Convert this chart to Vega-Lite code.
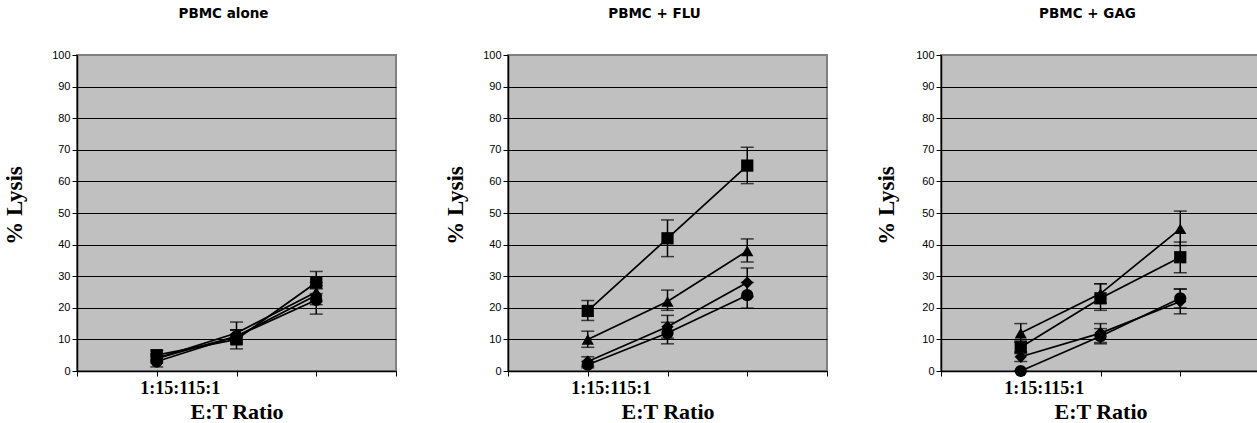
{
  "$schema": "https://vega.github.io/schema/vega-lite/v6.json",
  "background": "white",
  "padding": {"left": 2, "top": 5, "right": 0, "bottom": 0},
  "spacing": 45,
  "datasets": {
    "d": [
      {"panel": "PBMC alone", "series": "square", "ratio": "1:1", "pos": 1, "value": 5, "lo": 3.5, "hi": 6.5},
      {"panel": "PBMC alone", "series": "square", "ratio": "5:1", "pos": 2, "value": 10, "lo": 7, "hi": 13},
      {"panel": "PBMC alone", "series": "square", "ratio": "15:1", "pos": 3, "value": 28, "lo": 24.5, "hi": 31.5},
      {"panel": "PBMC alone", "series": "triangle", "ratio": "1:1", "pos": 1, "value": 4, "lo": 3, "hi": 5},
      {"panel": "PBMC alone", "series": "triangle", "ratio": "5:1", "pos": 2, "value": 12, "lo": 9.5, "hi": 15.5},
      {"panel": "PBMC alone", "series": "triangle", "ratio": "15:1", "pos": 3, "value": 25, "lo": 22, "hi": 28},
      {"panel": "PBMC alone", "series": "diamond", "ratio": "1:1", "pos": 1, "value": 4, "lo": 2.5, "hi": 5.5},
      {"panel": "PBMC alone", "series": "diamond", "ratio": "5:1", "pos": 2, "value": 11, "lo": 9, "hi": 13},
      {"panel": "PBMC alone", "series": "diamond", "ratio": "15:1", "pos": 3, "value": 24, "lo": 21, "hi": 27},
      {"panel": "PBMC alone", "series": "circle", "ratio": "1:1", "pos": 1, "value": 3, "lo": 1.3, "hi": 4.5},
      {"panel": "PBMC alone", "series": "circle", "ratio": "5:1", "pos": 2, "value": 11, "lo": 8.5, "hi": 13},
      {"panel": "PBMC alone", "series": "circle", "ratio": "15:1", "pos": 3, "value": 22.5, "lo": 18, "hi": 26},

      {"panel": "PBMC + FLU", "series": "square", "ratio": "1:1", "pos": 1, "value": 19, "lo": 16, "hi": 22.3},
      {"panel": "PBMC + FLU", "series": "square", "ratio": "5:1", "pos": 2, "value": 42, "lo": 36.2, "hi": 47.8},
      {"panel": "PBMC + FLU", "series": "square", "ratio": "15:1", "pos": 3, "value": 65, "lo": 59.3, "hi": 70.8},
      {"panel": "PBMC + FLU", "series": "triangle", "ratio": "1:1", "pos": 1, "value": 10, "lo": 7.5, "hi": 12.6},
      {"panel": "PBMC + FLU", "series": "triangle", "ratio": "5:1", "pos": 2, "value": 22, "lo": 19.2, "hi": 25.6},
      {"panel": "PBMC + FLU", "series": "triangle", "ratio": "15:1", "pos": 3, "value": 38, "lo": 34.5, "hi": 41.8},
      {"panel": "PBMC + FLU", "series": "diamond", "ratio": "1:1", "pos": 1, "value": 3, "lo": 1.5, "hi": 4.5},
      {"panel": "PBMC + FLU", "series": "diamond", "ratio": "5:1", "pos": 2, "value": 14, "lo": 10.4, "hi": 17.6},
      {"panel": "PBMC + FLU", "series": "diamond", "ratio": "15:1", "pos": 3, "value": 28, "lo": 23.5, "hi": 32.6},
      {"panel": "PBMC + FLU", "series": "circle", "ratio": "1:1", "pos": 1, "value": 2, "lo": 1, "hi": 3},
      {"panel": "PBMC + FLU", "series": "circle", "ratio": "5:1", "pos": 2, "value": 12, "lo": 8.6, "hi": 15.4},
      {"panel": "PBMC + FLU", "series": "circle", "ratio": "15:1", "pos": 3, "value": 24, "lo": 19.9, "hi": 28},

      {"panel": "PBMC + GAG", "series": "square", "ratio": "1:1", "pos": 1, "value": 7.5, "lo": 5.5, "hi": 9.5},
      {"panel": "PBMC + GAG", "series": "square", "ratio": "5:1", "pos": 2, "value": 23, "lo": 19.2, "hi": 27.6},
      {"panel": "PBMC + GAG", "series": "square", "ratio": "15:1", "pos": 3, "value": 36, "lo": 31.1, "hi": 40.8},
      {"panel": "PBMC + GAG", "series": "triangle", "ratio": "1:1", "pos": 1, "value": 12, "lo": 9, "hi": 15},
      {"panel": "PBMC + GAG", "series": "triangle", "ratio": "5:1", "pos": 2, "value": 24.5, "lo": 21.5, "hi": 27.6},
      {"panel": "PBMC + GAG", "series": "triangle", "ratio": "15:1", "pos": 3, "value": 45, "lo": 39.7, "hi": 50.6},
      {"panel": "PBMC + GAG", "series": "diamond", "ratio": "1:1", "pos": 1, "value": 4.5, "lo": 3, "hi": 6},
      {"panel": "PBMC + GAG", "series": "diamond", "ratio": "5:1", "pos": 2, "value": 12, "lo": 9, "hi": 15},
      {"panel": "PBMC + GAG", "series": "diamond", "ratio": "15:1", "pos": 3, "value": 22, "lo": 18.1, "hi": 25.9},
      {"panel": "PBMC + GAG", "series": "circle", "ratio": "1:1", "pos": 1, "value": 0, "lo": 0, "hi": 0},
      {"panel": "PBMC + GAG", "series": "circle", "ratio": "5:1", "pos": 2, "value": 11, "lo": 8.6, "hi": 13.4},
      {"panel": "PBMC + GAG", "series": "circle", "ratio": "15:1", "pos": 3, "value": 23, "lo": 20, "hi": 26}
    ]
  },
  "config": {
    "view": {"fill": "#C0C0C0", "stroke": "#808080", "strokeWidth": 2},
    "axis": {
      "labelFont": "Liberation Sans", "labelFontSize": 11, "labelColor": "black",
      "tickColor": "black", "tickSize": 5, "domainColor": "black", "domainWidth": 1.5,
      "titleFont": "Liberation Serif", "titleFontWeight": "bold", "titleFontSize": 22, "titleColor": "black"
    },
    "axisY": {"labelPadding": 2, "grid": true, "gridOpacity": 1, "gridWidth": 1, "titleFontSize": 23, "titleY": 150},
    "axisX": {
      "grid": false, "labelOverlap": false, "labelFlush": false,
      "labelFont": "Liberation Serif", "labelFontWeight": "bold", "labelFontSize": 18,
      "labelAlign": "left", "labelOffset": -17, "labelPadding": 3, "titlePadding": 4
    },
    "title": {"font": "DejaVu Sans", "fontSize": 13.5, "fontWeight": "bold", "color": "black", "offset": 29, "dx": -13},
    "line": {"color": "black", "strokeWidth": 1.7},
    "rule": {"color": "black", "strokeWidth": 1.5},
    "tick": {"color": "black", "thickness": 1.5, "size": 13, "orient": "horizontal"}
  },
  "hconcat": [
    {
      "title": "PBMC alone",
      "width": 319, "height": 316,
      "data": {"name": "d"},
      "transform": [{"filter": "datum.panel == 'PBMC alone'"}],
      "encoding": {"x": {"field": "pos", "type": "quantitative", "scale": {"domain": [0, 4]}, "axis": {"title": "E:T Ratio", "values": [0, 1, 2, 3, 4], "labelExpr": "datum.value == 1 ? '1:15:115:1' : ''"}}},
      "layer": [
        {"mark": {"type": "line"}, "encoding": {"y": {"field": "value", "type": "quantitative", "scale": {"domain": [0, 100]}, "axis": {"title": "% Lysis", "titlePadding": 25, "values": [0,10,20,30,40,50,60,70,80,90,100], "gridColor": {"condition": {"test": "datum.value === 100", "value": "#808080"}, "value": "black"}}}, "detail": {"field": "series"}}},
        {"mark": {"type": "rule"}, "encoding": {"y": {"field": "lo", "type": "quantitative", "axis": {"title": "% Lysis", "titlePadding": 25, "values": [0,10,20,30,40,50,60,70,80,90,100], "gridColor": {"condition": {"test": "datum.value === 100", "value": "#808080"}, "value": "black"}}}, "y2": {"field": "hi"}}},
        {"mark": {"type": "tick"}, "encoding": {"y": {"field": "lo", "type": "quantitative", "axis": {"title": "% Lysis", "titlePadding": 25, "values": [0,10,20,30,40,50,60,70,80,90,100], "gridColor": {"condition": {"test": "datum.value === 100", "value": "#808080"}, "value": "black"}}}}},
        {"mark": {"type": "tick"}, "encoding": {"y": {"field": "hi", "type": "quantitative", "axis": {"title": "% Lysis", "titlePadding": 25, "values": [0,10,20,30,40,50,60,70,80,90,100], "gridColor": {"condition": {"test": "datum.value === 100", "value": "#808080"}, "value": "black"}}}}},
        {"mark": {"type": "point", "filled": true, "opacity": 1, "color": "black", "size": 150}, "encoding": {"y": {"field": "value", "type": "quantitative", "axis": {"title": "% Lysis", "titlePadding": 25, "values": [0,10,20,30,40,50,60,70,80,90,100], "gridColor": {"condition": {"test": "datum.value === 100", "value": "#808080"}, "value": "black"}}}, "shape": {"field": "series", "scale": {"domain": ["square", "triangle", "diamond", "circle"], "range": ["square", "triangle-up", "diamond", "circle"]}, "legend": null}}}
      ]
    },
    {
      "title": "PBMC + FLU",
      "width": 319, "height": 316,
      "data": {"name": "d"},
      "transform": [{"filter": "datum.panel == 'PBMC + FLU'"}],
      "encoding": {"x": {"field": "pos", "type": "quantitative", "scale": {"domain": [0, 4]}, "axis": {"title": "E:T Ratio", "values": [0, 1, 2, 3, 4], "labelExpr": "datum.value == 1 ? '1:15:115:1' : ''"}}},
      "layer": [
        {"mark": {"type": "line"}, "encoding": {"y": {"field": "value", "type": "quantitative", "scale": {"domain": [0, 100]}, "axis": {"title": "% Lysis", "titlePadding": 15, "values": [0,10,20,30,40,50,60,70,80,90,100], "gridColor": {"condition": {"test": "datum.value === 100", "value": "#808080"}, "value": "black"}}}, "detail": {"field": "series"}}},
        {"mark": {"type": "rule"}, "encoding": {"y": {"field": "lo", "type": "quantitative", "axis": {"title": "% Lysis", "titlePadding": 15, "values": [0,10,20,30,40,50,60,70,80,90,100], "gridColor": {"condition": {"test": "datum.value === 100", "value": "#808080"}, "value": "black"}}}, "y2": {"field": "hi"}}},
        {"mark": {"type": "tick"}, "encoding": {"y": {"field": "lo", "type": "quantitative", "axis": {"title": "% Lysis", "titlePadding": 15, "values": [0,10,20,30,40,50,60,70,80,90,100], "gridColor": {"condition": {"test": "datum.value === 100", "value": "#808080"}, "value": "black"}}}}},
        {"mark": {"type": "tick"}, "encoding": {"y": {"field": "hi", "type": "quantitative", "axis": {"title": "% Lysis", "titlePadding": 15, "values": [0,10,20,30,40,50,60,70,80,90,100], "gridColor": {"condition": {"test": "datum.value === 100", "value": "#808080"}, "value": "black"}}}}},
        {"mark": {"type": "point", "filled": true, "opacity": 1, "color": "black", "size": 150}, "encoding": {"y": {"field": "value", "type": "quantitative", "axis": {"title": "% Lysis", "titlePadding": 15, "values": [0,10,20,30,40,50,60,70,80,90,100], "gridColor": {"condition": {"test": "datum.value === 100", "value": "#808080"}, "value": "black"}}}, "shape": {"field": "series", "scale": {"domain": ["square", "triangle", "diamond", "circle"], "range": ["square", "triangle-up", "diamond", "circle"]}, "legend": null}}}
      ]
    },
    {
      "title": "PBMC + GAG",
      "width": 319, "height": 316,
      "data": {"name": "d"},
      "transform": [{"filter": "datum.panel == 'PBMC + GAG'"}],
      "encoding": {"x": {"field": "pos", "type": "quantitative", "scale": {"domain": [0, 4]}, "axis": {"title": "E:T Ratio", "values": [0, 1, 2, 3, 4], "labelExpr": "datum.value == 1 ? '1:15:115:1' : ''"}}},
      "layer": [
        {"mark": {"type": "line"}, "encoding": {"y": {"field": "value", "type": "quantitative", "scale": {"domain": [0, 100]}, "axis": {"title": "% Lysis", "titlePadding": 17, "values": [0,10,20,30,40,50,60,70,80,90,100], "gridColor": {"condition": {"test": "datum.value === 100", "value": "#808080"}, "value": "black"}}}, "detail": {"field": "series"}}},
        {"mark": {"type": "rule"}, "encoding": {"y": {"field": "lo", "type": "quantitative", "axis": {"title": "% Lysis", "titlePadding": 17, "values": [0,10,20,30,40,50,60,70,80,90,100], "gridColor": {"condition": {"test": "datum.value === 100", "value": "#808080"}, "value": "black"}}}, "y2": {"field": "hi"}}},
        {"mark": {"type": "tick"}, "encoding": {"y": {"field": "lo", "type": "quantitative", "axis": {"title": "% Lysis", "titlePadding": 17, "values": [0,10,20,30,40,50,60,70,80,90,100], "gridColor": {"condition": {"test": "datum.value === 100", "value": "#808080"}, "value": "black"}}}}},
        {"mark": {"type": "tick"}, "encoding": {"y": {"field": "hi", "type": "quantitative", "axis": {"title": "% Lysis", "titlePadding": 17, "values": [0,10,20,30,40,50,60,70,80,90,100], "gridColor": {"condition": {"test": "datum.value === 100", "value": "#808080"}, "value": "black"}}}}},
        {"mark": {"type": "point", "filled": true, "opacity": 1, "color": "black", "size": 150}, "encoding": {"y": {"field": "value", "type": "quantitative", "axis": {"title": "% Lysis", "titlePadding": 17, "values": [0,10,20,30,40,50,60,70,80,90,100], "gridColor": {"condition": {"test": "datum.value === 100", "value": "#808080"}, "value": "black"}}}, "shape": {"field": "series", "scale": {"domain": ["square", "triangle", "diamond", "circle"], "range": ["square", "triangle-up", "diamond", "circle"]}, "legend": null}}}
      ]
    }
  ]
}
